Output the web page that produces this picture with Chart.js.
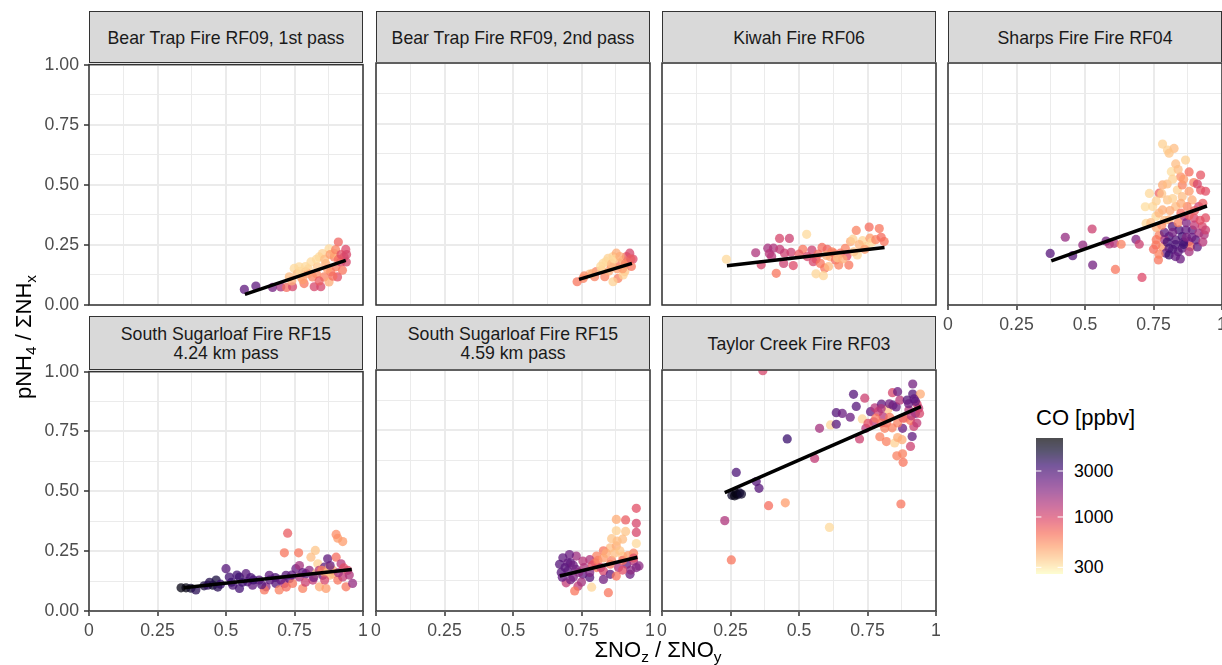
<!DOCTYPE html>
<html>
<head>
<meta charset="utf-8">
<title>pNH4 / ΣNHx vs ΣNOz / ΣNOy</title>
<script src="https://cdn.jsdelivr.net/npm/chart.js@4/dist/chart.umd.min.js"></script>
<style>
  body { margin: 0; width: 1222px; height: 665px; position: relative; overflow: hidden; background: #fff;
         font-family: "Liberation Sans", Arial, sans-serif; }
  canvas { position: absolute; }
  .strip { position: absolute; box-sizing: border-box; background: #d9d9d9; border: 1px solid #333;
           color: #1a1a1a; font-size: 17.7px; line-height: 19px; display: flex; flex-direction: column;
           justify-content: center; align-items: center; padding-top: 2px; white-space: nowrap; }
  .title { position: absolute; font-size: 22px; line-height: 24px; color: #000; white-space: nowrap; }
  .sub { font-size: 0.7em; position: relative; top: 0.32em; }
  .cbLabel { position: absolute; font-size: 17.7px; line-height: 20px; color: #000; }
</style>
</head>
<body>
<script>
// ---- data ----
const xTickLabels = ['0', '0.25', '0.5', '0.75', '1'];
const yTickLabels = ['0.00', '0.25', '0.50', '0.75', '1.00'];
const coBreaks = [300, 1000, 3000];
const coLimits = [256, 6600];

const panelTitles = [
  ['Bear Trap Fire RF09, 1st pass'],
  ['Bear Trap Fire RF09, 2nd pass'],
  ['Kiwah Fire RF06'],
  ['Sharps Fire Fire RF04'],
  ['South Sugarloaf Fire RF15', '4.24 km pass'],
  ['South Sugarloaf Fire RF15', '4.59 km pass'],
  ['Taylor Creek Fire RF03']
];

const bearTrap1X = [0.567,0.609,0.670,0.700,0.721,0.743,0.731,0.749,0.767,0.773,0.785,0.791,0.810,0.816,0.822,0.834,0.840,0.846,0.858,0.864,
  0.876,0.882,0.876,0.895,0.901,0.907,0.910,0.919,0.931,0.937,0.925,0.939,0.895,0.852,0.760,0.800,0.870,0.830,0.780,0.910,
  0.740,0.770,0.800,0.830,0.860,0.880,0.900,0.920,0.940,0.840,0.890,0.790];
const bearTrap1Y = [0.065,0.079,0.073,0.075,0.073,0.076,0.117,0.152,0.159,0.117,0.089,0.138,0.179,0.117,0.076,0.159,0.200,0.076,0.117,0.172,
  0.234,0.138,0.096,0.200,0.159,0.117,0.262,0.179,0.200,0.231,0.145,0.179,0.214,0.214,0.130,0.150,0.150,0.130,0.105,0.190,
  0.100,0.140,0.130,0.190,0.190,0.210,0.230,0.210,0.210,0.100,0.120,0.160];
const bearTrap1CO = [2600,2600,2200,1500,700,1000,400,330,330,400,650,600,330,600,1000,380,330,1000,600,450,
  330,650,450,600,650,900,750,1000,1000,950,650,1000,380,350,400,350,500,550,500,700,
  450,330,500,330,400,500,600,900,1000,800,700,330];
const bearTrap1FitX = [0.569, 0.937];
const bearTrap1FitY = [0.044, 0.186];

const bearTrap2X = [0.734,0.756,0.780,0.804,0.823,0.829,0.847,0.859,0.865,0.877,0.883,0.889,0.902,0.908,0.914,0.926,0.938,0.932,0.902,0.865,
  0.835,0.798,0.850,0.880,0.920,0.760,0.790,0.820,0.840,0.860,0.870,0.890,0.910,0.930,0.900];
const bearTrap2Y = [0.096,0.110,0.128,0.138,0.145,0.172,0.193,0.159,0.200,0.214,0.110,0.172,0.186,0.138,0.200,0.214,0.190,0.159,0.124,0.096,
  0.117,0.117,0.140,0.150,0.175,0.120,0.130,0.160,0.180,0.170,0.190,0.200,0.170,0.190,0.150];
const bearTrap2CO = [650,600,400,600,380,330,350,600,340,450,600,650,400,380,800,1000,950,650,350,350,600,600,450,500,550,
  550,450,330,330,400,330,450,600,800,500];
const bearTrap2FitX = [0.741, 0.934];
const bearTrap2FitY = [0.106, 0.172];

const kiwahX = [0.235,0.342,0.362,0.386,0.392,0.407,0.417,0.429,0.447,0.444,0.465,0.471,0.479,0.528,0.514,0.547,0.552,0.562,0.578,0.584,
  0.594,0.603,0.562,0.589,0.608,0.614,0.627,0.633,0.645,0.651,0.669,0.675,0.682,0.688,0.697,0.709,0.713,0.732,0.744,0.756,
  0.759,0.766,0.793,0.811,0.640,0.600,0.400,0.430,0.500,0.530,0.570,0.620,0.660,0.700,0.720,0.740,0.780,0.800];
const kiwahY = [0.189,0.216,0.166,0.235,0.212,0.235,0.131,0.275,0.214,0.172,0.275,0.218,0.163,0.292,0.230,0.227,0.179,0.190,0.172,0.238,
  0.152,0.230,0.129,0.121,0.159,0.199,0.214,0.186,0.165,0.214,0.234,0.203,0.165,0.262,0.272,0.308,0.207,0.266,0.241,0.322,
  0.276,0.259,0.316,0.262,0.195,0.205,0.200,0.230,0.210,0.200,0.210,0.220,0.190,0.220,0.250,0.230,0.270,0.280];
const kiwahCO = [330,1400,1000,1500,1300,1400,650,1000,1100,1100,1100,1100,950,330,650,1100,1000,900,650,700,
  650,750,340,340,400,450,650,700,600,700,600,900,650,450,350,600,330,340,350,700,500,330,650,650,380,450,
  1300,1200,800,1000,700,600,450,380,420,500,600,700];
const kiwahFitX = [0.237, 0.812];
const kiwahFitY = [0.162, 0.238];

const sharpsX = [0.373,0.428,0.455,0.492,0.526,0.528,0.577,0.589,0.607,0.611,0.632,0.686,0.698,0.708,0.723,0.735,0.720,0.783,0.801,0.825,
  0.807,0.831,0.867,0.815,0.849,0.922,0.922,0.897,0.771,0.783,0.837,0.855,0.891,0.801,0.783,0.831,0.873,0.915,0.759,0.807,
  0.862,0.898,0.928,0.819,0.843,0.868,0.892,0.916,0.807,0.831,0.855,0.879,0.904,0.783,0.807,0.855,0.885,0.795,0.807,0.768,
  0.848,0.759,0.771,0.747,0.855,0.910,0.840,0.870,0.760,0.790,0.820,0.850,0.880,0.900,0.935,0.940,0.830,0.860,0.820,0.790,
  0.790,0.800,0.820,0.840,0.860,0.870,0.890,0.900,0.920,0.930,0.940,0.760,0.780,0.800,0.820,0.840,0.860,0.880,0.740,0.770,
  0.810,0.850,0.880,0.780,0.760,0.750,0.770,0.830,0.880,0.910,0.930,0.940];
const sharpsY = [0.213,0.280,0.204,0.248,0.314,0.165,0.264,0.252,0.255,0.147,0.251,0.271,0.251,0.114,0.337,0.461,0.406,0.665,0.640,0.647,
  0.627,0.583,0.599,0.551,0.530,0.537,0.475,0.506,0.462,0.496,0.475,0.448,0.434,0.434,0.393,0.407,0.407,0.407,0.366,0.352,
  0.366,0.359,0.324,0.324,0.310,0.310,0.310,0.297,0.283,0.269,0.283,0.262,0.269,0.241,0.235,0.235,0.241,0.214,0.207,0.186,
  0.190,0.248,0.289,0.407,0.496,0.500,0.340,0.340,0.320,0.350,0.440,0.420,0.470,0.390,0.290,0.360,0.250,0.260,0.300,0.270,
  0.300,0.260,0.230,0.220,0.250,0.280,0.280,0.330,0.350,0.420,0.470,0.430,0.460,0.500,0.520,0.560,0.520,0.550,0.340,0.380,
  0.390,0.380,0.370,0.330,0.270,0.230,0.210,0.200,0.220,0.240,0.260,0.310];
const sharpsCO = [2800,1700,2800,1700,1100,2200,2200,1400,1300,650,600,2000,1100,950,330,330,320,350,350,400,
  380,400,350,320,550,850,850,600,750,450,350,400,450,380,450,400,600,1100,330,450,
  1300,1000,1000,2800,3000,2500,2600,1500,3000,2800,3200,1400,2600,500,2800,2600,650,2500,3500,650,
  2400,650,600,330,600,1000,600,2000,450,400,350,450,500,800,1400,900,3000,2800,2200,1500,
  2600,3200,3000,2800,3400,2000,2400,1200,900,800,900,350,380,400,350,400,500,700,400,420,
  450,700,800,550,650,700,600,2500,1500,2600,1300,1100];
const sharpsFitX = [0.377, 0.945];
const sharpsFitY = [0.182, 0.409];

const sugarloaf424X = [0.336,0.354,0.372,0.390,0.420,0.433,0.452,0.464,0.480,0.500,0.512,0.525,0.549,0.549,0.573,0.579,0.597,0.621,0.646,0.640,
  0.658,0.682,0.694,0.713,0.719,0.731,0.743,0.755,0.768,0.768,0.780,0.792,0.804,0.817,0.829,0.835,0.841,0.853,0.859,0.865,
  0.877,0.871,0.890,0.902,0.908,0.920,0.926,0.938,0.944,0.962,0.926,0.908,0.902,0.725,0.713,0.765,0.826,0.810,0.600,0.680,
  0.860,0.880,0.840,0.560,0.590,0.630,0.660,0.700,0.740,0.780,0.820,0.850,0.870,0.890,0.910,0.930,0.950,0.720,0.790,0.860,
  0.880,0.440,0.470,0.520,0.540];
const sugarloaf424Y = [0.097,0.097,0.095,0.088,0.105,0.108,0.108,0.129,0.112,0.177,0.142,0.108,0.142,0.094,0.156,0.122,0.108,0.129,0.101,0.088,
  0.149,0.115,0.088,0.115,0.149,0.135,0.115,0.177,0.142,0.190,0.094,0.156,0.170,0.129,0.156,0.197,0.101,0.149,0.183,0.094,
  0.183,0.218,0.156,0.225,0.129,0.197,0.142,0.101,0.170,0.115,0.290,0.304,0.320,0.325,0.243,0.243,0.253,0.225,0.130,0.140,
  0.160,0.150,0.170,0.120,0.140,0.110,0.130,0.130,0.150,0.160,0.140,0.170,0.160,0.170,0.160,0.180,0.150,0.100,0.120,0.130,
  0.190,0.120,0.100,0.120,0.150];
const sugarloaf424CO = [6000,6000,5000,4000,4500,3800,5000,4500,3500,2800,3200,3000,3800,3200,2800,3000,2600,2800,1800,650,
  2600,2800,600,1300,2800,2600,650,2400,1400,1500,600,2600,1800,1200,350,350,450,2500,2600,500,
  380,2600,400,700,650,1300,1200,650,1000,1700,500,500,550,800,650,650,380,400,3500,3000,
  450,420,1300,3300,3000,2800,2700,2500,2600,2500,2200,600,380,450,1500,900,1400,700,1100,1000,
  2400,4200,4000,3500,3200];
const sugarloaf424FitX = [0.345, 0.959];
const sugarloaf424FitY = [0.097, 0.173];

const sugarloaf459X = [0.950,0.877,0.911,0.950,0.877,0.911,0.950,0.900,0.950,0.855,0.877,0.830,0.805,0.780,0.755,0.731,0.706,0.682,0.670,0.676,
  0.700,0.730,0.755,0.780,0.694,0.737,0.725,0.787,0.848,0.805,0.830,0.855,0.885,0.915,0.940,0.960,0.927,0.900,0.855,0.830,
  0.877,0.700,0.720,0.800,0.900,0.940,0.690,0.710,0.680,0.720,0.740,0.760,0.790,0.810,0.830,0.840,0.860,0.870,0.890,0.900,
  0.920,0.930,0.950,0.940,0.860,0.880,0.820,0.780,0.710,0.750];
const sugarloaf459Y = [0.426,0.380,0.378,0.364,0.333,0.330,0.326,0.298,0.280,0.262,0.270,0.250,0.228,0.213,0.207,0.228,0.234,0.221,0.194,0.160,
  0.166,0.173,0.152,0.139,0.117,0.103,0.083,0.099,0.076,0.180,0.166,0.194,0.180,0.194,0.207,0.187,0.152,0.228,0.152,0.131,
  0.145,0.200,0.140,0.200,0.170,0.240,0.180,0.200,0.140,0.190,0.160,0.180,0.190,0.210,0.220,0.240,0.210,0.240,0.250,0.210,
  0.230,0.170,0.180,0.220,0.300,0.290,0.180,0.160,0.130,0.120];
const sugarloaf459CO = [900,450,800,1000,350,380,1000,400,330,400,450,650,600,1400,1300,1600,2400,2600,2800,2800,
  2600,2200,2500,2800,1200,1200,650,340,650,650,1000,650,1400,2400,1300,1800,2400,380,2600,2200,
  650,2500,2000,700,900,600,2700,2600,2500,2300,1800,1400,900,600,500,450,600,400,380,700,
  500,1800,2000,900,380,400,1100,2000,2200,1500];
const sugarloaf459FitX = [0.671, 0.954];
const sugarloaf459FitY = [0.145, 0.223];

const taylorX = [0.368,0.253,0.229,0.271,0.255,0.265,0.275,0.283,0.270,0.290,0.344,0.354,0.389,0.450,0.457,0.557,0.575,0.615,0.611,0.636,
  0.636,0.658,0.687,0.699,0.709,0.721,0.731,0.740,0.744,0.761,0.777,0.773,0.795,0.801,0.807,0.813,0.819,0.825,0.831,0.841,
  0.843,0.849,0.855,0.857,0.860,0.868,0.872,0.876,0.878,0.878,0.880,0.887,0.895,0.901,0.907,0.913,0.915,0.915,0.919,0.925,
  0.931,0.943,0.937,0.907,0.752,0.789,0.925,0.860,0.800,0.820,0.840,0.860,0.880,0.900,0.920,0.940,0.930,0.800,0.780,0.830,
  0.910];
const taylorY = [0.997,0.212,0.375,0.575,0.480,0.478,0.482,0.490,0.488,0.485,0.537,0.509,0.437,0.449,0.714,0.633,0.758,0.772,0.347,0.823,
  0.775,0.820,0.804,0.899,0.849,0.714,0.797,0.883,0.758,0.827,0.843,0.785,0.723,0.858,0.807,0.758,0.703,0.837,0.804,0.906,
  0.854,0.697,0.847,0.644,0.910,0.875,0.444,0.711,0.758,0.652,0.617,0.800,0.875,0.834,0.683,0.724,0.942,0.900,0.766,0.820,
  0.858,0.900,0.841,0.790,0.779,0.827,0.870,0.780,0.780,0.780,0.760,0.720,0.800,0.860,0.880,0.820,0.780,0.840,0.800,0.860,
  0.810];
const taylorCO = [1000,650,1400,3000,5000,6000,5500,4500,6000,5000,2800,2800,700,500,3500,1200,1500,340,330,2800,
  2800,2400,2400,2800,2800,1100,340,1100,1300,2500,1300,1300,600,2600,1300,600,600,380,650,1000,
  2600,350,2400,600,2400,1300,650,450,2400,600,650,450,2800,1300,1100,2600,2200,2800,1100,2400,
  950,450,1200,650,900,1100,2600,600,700,700,600,450,800,2400,2600,1000,1200,1400,650,2200,
  1300];
const taylorFitX = [0.229, 0.945];
const taylorFitY = [0.491, 0.848];

// ---- layout ----
const colLeft = [89, 376, 662, 948];
const rowTop = [63, 370];
const rowHeight = [242, 241];
const stripTop = [11, 316];
const PANEL_W = 274;
const AX_W = 60, AX_H = 40, PAD_T = 14, PAD_R = 14;
const POINT_ALPHA = 0.75;

const fontFamily = '"Liberation Sans", Arial, sans-serif';
Chart.defaults.font.family = fontFamily;

// magma palette, sampled at 0, 0.1, ... 1
const magmaStops = ['#000004', '#140e36', '#3b0f70', '#641a80', '#8c2981', '#b73779',
  '#de4968', '#f7705c', '#fe9f6d', '#fecf92', '#fcfdbf'];

function hexRgb(h) {
  return [parseInt(h.slice(1, 3), 16), parseInt(h.slice(3, 5), 16), parseInt(h.slice(5, 7), 16)];
}

function magma(t) {
  t = Math.min(1, Math.max(0, t));
  const p = t * (magmaStops.length - 1);
  const i = Math.min(Math.floor(p), magmaStops.length - 2);
  const f = p - i;
  const a = hexRgb(magmaStops[i]), b = hexRgb(magmaStops[i + 1]);
  return a.map((v, k) => Math.round(v + (b[k] - v) * f));
}

const logMin = Math.log10(coLimits[0]);
const logMax = Math.log10(coLimits[1]);

// high CO -> dark end of magma, log scaled
function coColour(v, alpha) {
  const t = (Math.log10(v) - logMin) / (logMax - logMin);
  const [r, g, b] = magma(1 - t);
  return 'rgba(' + r + ',' + g + ',' + b + ',' + (alpha === undefined ? POINT_ALPHA : alpha) + ')';
}

const panels = [
  { title: panelTitles[0], x: bearTrap1X, y: bearTrap1Y, co: bearTrap1CO, fitX: bearTrap1FitX, fitY: bearTrap1FitY },
  { title: panelTitles[1], x: bearTrap2X, y: bearTrap2Y, co: bearTrap2CO, fitX: bearTrap2FitX, fitY: bearTrap2FitY },
  { title: panelTitles[2], x: kiwahX, y: kiwahY, co: kiwahCO, fitX: kiwahFitX, fitY: kiwahFitY },
  { title: panelTitles[3], x: sharpsX, y: sharpsY, co: sharpsCO, fitX: sharpsFitX, fitY: sharpsFitY },
  { title: panelTitles[4], x: sugarloaf424X, y: sugarloaf424Y, co: sugarloaf424CO, fitX: sugarloaf424FitX, fitY: sugarloaf424FitY },
  { title: panelTitles[5], x: sugarloaf459X, y: sugarloaf459Y, co: sugarloaf459CO, fitX: sugarloaf459FitX, fitY: sugarloaf459FitY },
  { title: panelTitles[6], x: taylorX, y: taylorY, co: taylorCO, fitX: taylorFitX, fitY: taylorFitY }
];

// grey20 frame over each panel
const panelBorder = {
  id: 'panelBorder',
  afterDatasetsDraw(chart) {
    const { ctx, chartArea: a } = chart;
    ctx.save();
    ctx.strokeStyle = '#333333';
    ctx.lineWidth = 1.5;
    ctx.strokeRect(a.left, a.top, a.right - a.left, a.bottom - a.top);
    ctx.restore();
  }
};

function axisOptions(isX, show, labels) {
  return {
    type: 'linear',
    min: 0,
    max: 1,
    afterFit: s => { if (isX) s.height = AX_H; else s.width = AX_W; },
    border: { display: false },
    grid: {
      color: '#ebebeb',
      lineWidth: c => (c.index % 2 ? 1 : 2),
      drawTicks: show,
      tickLength: 5,
      tickWidth: 1.5,
      tickColor: c => (c.index % 2 ? 'rgba(0,0,0,0)' : '#333333')
    },
    ticks: {
      display: show,
      stepSize: 0.125,
      autoSkip: false,
      maxRotation: 0,
      padding: isX ? 4 : 5,
      color: '#4d4d4d',
      font: { family: fontFamily, size: 17.7 },
      callback: (v, i) => (i % 2 ? '' : labels[i / 2])
    }
  };
}

panels.forEach((p, i) => {
  const row = i < 4 ? 0 : 1;
  const col = i < 4 ? i : i - 4;
  const left = colLeft[col];
  const top = rowTop[row];
  const h = rowHeight[row];
  const showX = row === 1 || i === 3;
  const showY = col === 0;

  const strip = document.createElement('div');
  strip.className = 'strip';
  strip.style.left = left + 'px';
  strip.style.top = stripTop[row] + 'px';
  strip.style.width = PANEL_W + 'px';
  strip.style.height = (top - stripTop[row]) + 'px';
  p.title.forEach(line => {
    const d = document.createElement('div');
    d.textContent = line;
    strip.appendChild(d);
  });
  document.body.appendChild(strip);

  const cv = document.createElement('canvas');
  cv.width = AX_W + PANEL_W + PAD_R;
  cv.height = PAD_T + h + AX_H;
  cv.style.left = (left - AX_W) + 'px';
  cv.style.top = (top - PAD_T) + 'px';
  document.body.appendChild(cv);

  new Chart(cv, {
    type: 'scatter',
    data: {
      datasets: [
        {
          label: 'fit',
          data: p.fitX.map((x, k) => ({ x: x, y: p.fitY[k] })),
          showLine: true,
          borderColor: '#000000',
          borderWidth: 3.5,
          pointRadius: 0,
          order: 0,
          clip: 0
        },
        {
          label: 'CO',
          data: p.x.map((x, k) => ({ x: x, y: p.y[k] })),
          pointRadius: 4.6,
          pointBorderWidth: 0,
          pointBackgroundColor: p.co.map(v => coColour(v)),
          order: 1,
          clip: 0
        }
      ]
    },
    options: {
      responsive: false,
      animation: false,
      events: [],
      layout: { padding: { left: 0, top: PAD_T, right: PAD_R, bottom: 0 } },
      plugins: { legend: { display: false }, tooltip: { enabled: false } },
      scales: {
        x: axisOptions(true, showX, xTickLabels),
        y: axisOptions(false, showY, yTickLabels)
      }
    },
    plugins: [panelBorder]
  });
});

// axis titles
function addTitle(html, css) {
  const d = document.createElement('div');
  d.className = 'title';
  d.innerHTML = html;
  Object.assign(d.style, css);
  document.body.appendChild(d);
  return d;
}
addTitle('pNH<span class="sub">4</span> / ΣNH<span class="sub">x</span>',
  { left: '25px', top: '337px', transform: 'translate(-50%, -50%) rotate(-90deg)' });
addTitle('ΣNO<span class="sub">z</span> / ΣNO<span class="sub">y</span>',
  { left: '658px', top: '638px', transform: 'translateX(-50%)' });

// colour bar
const CB_LEFT = 1036, CB_TOP = 438, CB_W = 27, CB_H = 136;
addTitle('CO [ppbv]', { left: CB_LEFT + 'px', top: '406px' });

const cb = document.createElement('canvas');
cb.width = CB_W;
cb.height = CB_H;
cb.style.left = CB_LEFT + 'px';
cb.style.top = CB_TOP + 'px';
document.body.appendChild(cb);
const g = cb.getContext('2d');
for (let j = 0; j < CB_H; j++) {
  const lv = logMax - (j + 0.5) / CB_H * (logMax - logMin);
  g.fillStyle = coColour(Math.pow(10, lv), 0.7);
  g.fillRect(0, j, CB_W, 1);
}
g.strokeStyle = '#ffffff';
g.lineWidth = 1;
coBreaks.forEach(b => {
  const y = (logMax - Math.log10(b)) / (logMax - logMin) * CB_H;
  g.beginPath();
  g.moveTo(0, y); g.lineTo(CB_W / 5, y);
  g.moveTo(CB_W - CB_W / 5, y); g.lineTo(CB_W, y);
  g.stroke();
  const lab = document.createElement('div');
  lab.className = 'cbLabel';
  lab.textContent = String(b);
  lab.style.left = '1074px';
  lab.style.top = (CB_TOP + y - 10) + 'px';
  document.body.appendChild(lab);
});
</script>
</body>
</html>
